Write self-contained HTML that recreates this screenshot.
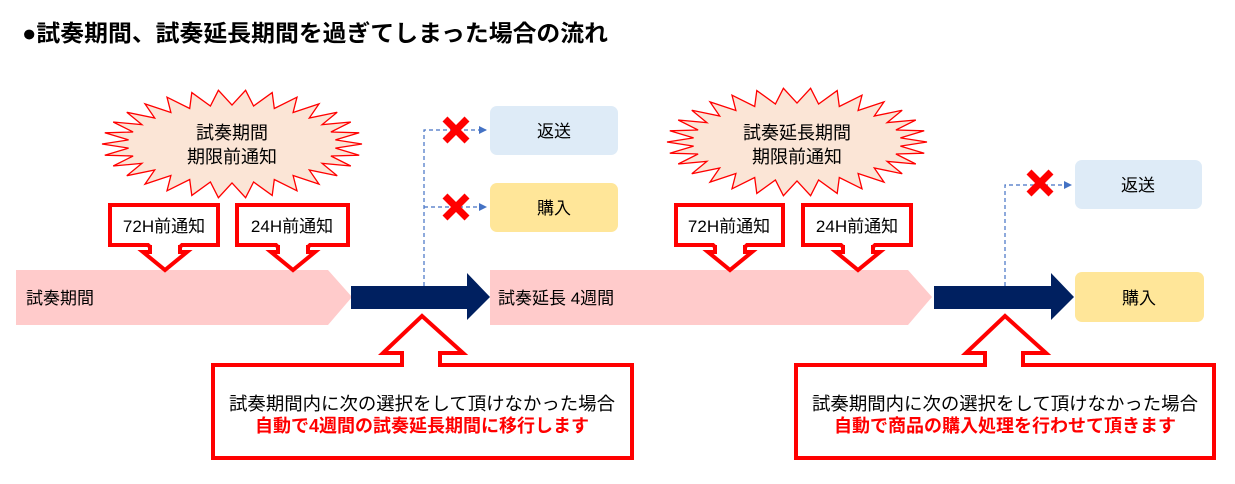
<!DOCTYPE html>
<html><head><meta charset="utf-8"><style>
body{margin:0;background:#fff;width:1235px;height:484px;overflow:hidden}
svg{display:block}
text{font-family:"Liberation Sans","Noto Sans CJK JP",sans-serif}
</style></head><body>
<svg width="1235" height="484" viewBox="0 0 1235 484" xmlns="http://www.w3.org/2000/svg">
<defs><marker id="ah" markerWidth="8" markerHeight="8" refX="7" refY="4" orient="auto" markerUnits="userSpaceOnUse"><path d="M0,0 L8,4 L0,8 Z" fill="#4472c4"/></marker></defs>
<text x="22" y="41" font-size="23" font-weight="bold" fill="#000" textLength="586" lengthAdjust="spacingAndGlyphs">●試奏期間、試奏延長期間を過ぎてしまった場合の流れ</text>

<polygon id="b1" fill="#fbe5d6" stroke="#ff0000" stroke-width="1.3"/>
<polygon id="b2" fill="#fbe5d6" stroke="#ff0000" stroke-width="1.3"/>
<text x="232" y="139" font-size="18" text-anchor="middle">試奏期間</text>
<text x="232" y="163" font-size="18" text-anchor="middle">期限前通知</text>
<text x="797" y="139" font-size="18" text-anchor="middle">試奏延長期間</text>
<text x="797" y="163" font-size="18" text-anchor="middle">期限前通知</text>

<polygon points="16,270 328,270 352,297 328,325 16,325" fill="#ffcbcb"/>
<polygon points="490,270 908,270 932,297 908,325 490,325" fill="#ffcbcb"/>
<text x="26" y="304" font-size="17">試奏期間</text>
<text x="498" y="304" font-size="17">試奏延長  4週間</text>

<g fill="#fff" stroke="#ff0000" stroke-width="4">
<path d="M110,205 H218 V245 H182 L165,262 L148,245 H110 Z"/>
<path d="M237,205 H348 V245 H310 L293,262 L276,245 H237 Z"/>
<path d="M676,205 H783 V245 H747 L730,262 L713,245 H676 Z"/>
<path d="M803,205 H911 V245 H875 L858,262 L841,245 H803 Z"/>
</g>
<g fill="#fff" stroke="#ff0000" stroke-width="4">
<path d="M150,245 V252 H143 L165,270 L187,252 H180 V245"/>
<path d="M278,245 V252 H271 L293,270 L315,252 H308 V245"/>
<path d="M715,245 V252 H708 L730,270 L752,252 H745 V245"/>
<path d="M843,245 V252 H836 L858,270 L880,252 H873 V245"/>
</g>
<g font-size="17" text-anchor="middle">
<text x="164" y="232">72H前通知</text><text x="292" y="232">24H前通知</text>
<text x="729" y="232">72H前通知</text><text x="857" y="232">24H前通知</text>
</g>

<g stroke="#4472c4" stroke-width="1.2" stroke-dasharray="4,3" fill="none">
<path d="M424,286 V130 H486" marker-end="url(#ah)"/>
<path d="M424,207 H486" marker-end="url(#ah)"/>
<path d="M1005,286 V185 H1071" marker-end="url(#ah)"/>
</g>
<polygon points="351,286 467,286 467,273 490,297 467,320 467,309 351,309" fill="#002060"/>
<polygon points="934,286 1051,286 1051,273 1074,297 1051,320 1051,309 934,309" fill="#002060"/>

<g stroke="#ff0000" stroke-width="7">
<path d="M445,119 L467,141 M467,119 L445,141"/>
<path d="M445,196 L467,218 M467,196 L445,218"/>
<path d="M1029,172 L1051,194 M1051,172 L1029,194"/>
</g>

<rect x="490" y="106" width="128" height="49" rx="7" fill="#deebf7"/>
<rect x="490" y="183" width="128" height="49" rx="7" fill="#ffe699"/>
<rect x="1075" y="160" width="127" height="49" rx="7" fill="#deebf7"/>
<rect x="1075" y="272" width="129" height="50" rx="7" fill="#ffe699"/>
<g font-size="17" text-anchor="middle">
<text x="554" y="137">返送</text><text x="554" y="214">購入</text>
<text x="1138" y="191">返送</text><text x="1139" y="304">購入</text>
</g>

<g fill="#fff" stroke="#ff0000" stroke-width="4">
<path d="M213,365 H402 V353 H383 L422,316 L463,353 H440 V365 H632 V458 H213 Z"/>
<path d="M796,365 H985 V353 H966 L1005,316 L1046,353 H1023 V365 H1214 V458 H796 Z"/>
</g>
<g font-size="18" text-anchor="middle">
<text x="422" y="410" textLength="386" lengthAdjust="spacingAndGlyphs">試奏期間内に次の選択をして頂けなかった場合</text>
<text x="422" y="432" fill="#ff0000" font-weight="bold">自動で4週間の試奏延長期間に移行します</text>
<text x="1005" y="410" textLength="386" lengthAdjust="spacingAndGlyphs">試奏期間内に次の選択をして頂けなかった場合</text>
<text x="1005" y="432" fill="#ff0000" font-weight="bold">自動で商品の購入処理を行わせて頂きます</text>
</g>
</svg>
<script>
function burst(id,cx,cy,rx,ry,n){var p=[];for(var i=0;i<n*2;i++){var a=Math.PI*2*i/(n*2);var r=(i%2==0)?1:0.8;p.push((cx+Math.cos(a)*rx*r).toFixed(1)+","+(cy+Math.sin(a)*ry*(i%2==0?1:0.72)).toFixed(1));}document.getElementById(id).setAttribute("points",p.join(" "));}
burst("b1",232,144,130,54,30);burst("b2",797,142,130,54,30);
</script>
</body></html>
